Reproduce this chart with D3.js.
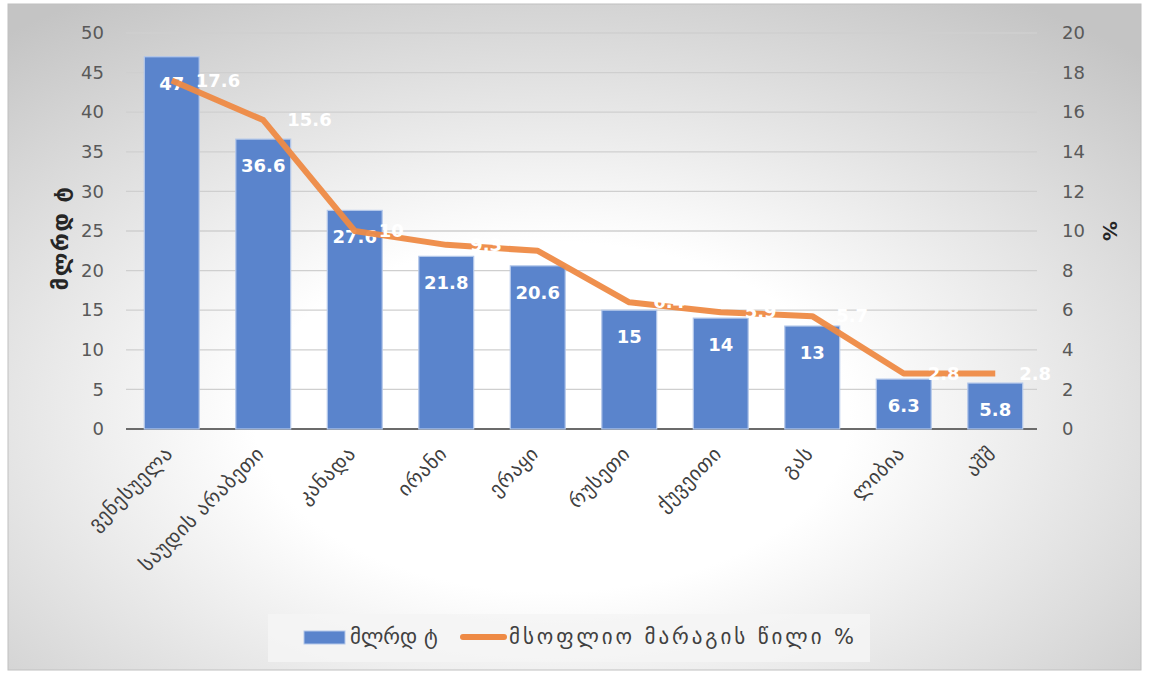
<!DOCTYPE html>
<html><head><meta charset="utf-8">
<script src="https://cdn.jsdelivr.net/npm/d3@7"></script>
<style>body{margin:0;background:#fff}svg{display:block}text{font-family:"DejaVu Sans","Noto Sans",sans-serif}</style>
</head><body>
<script>
const categories = ["ვენესუელა","საუდის არაბეთი","კანადა","ირანი","ერაყი","რუსეთი","ქუვეითი","გას","ლიბია","აშშ"];
const reserves = [47, 36.6, 27.6, 21.8, 20.6, 15, 14, 13, 6.3, 5.8];
const share = [17.6, 15.6, 10, 9.3, 9, 6.4, 5.9, 5.7, 2.8, 2.8];
const leftTicks = [0,5,10,15,20,25,30,35,40,45,50];
const rightTicks = [0,2,4,6,8,10,12,14,16,18,20];
const seriesNames = ["მლრდ ტ","მსოფლიო მარაგის წილი %"];
const yTitleLeft = "მლრდ ტ", yTitleRight = "%";

const W=1149,H=675;
const svg=d3.select("body").append("svg").attr("width",W).attr("height",H);
const defs=svg.append("defs");
const g=defs.append("radialGradient").attr("id","bg").attr("cx","48%").attr("cy","62%").attr("r","75%");
g.append("stop").attr("offset","0%").attr("stop-color","#ffffff");
g.append("stop").attr("offset","35%").attr("stop-color","#ffffff");
g.append("stop").attr("offset","100%").attr("stop-color","#c4c4c4");
svg.append("rect").attr("x",8).attr("y",4).attr("width",1133).attr("height",666).attr("fill","url(#bg)").attr("stroke","#c0c0c0").attr("stroke-width",1);

const m={l:126,r:1041,t:33,b:429};
const x=d3.scaleBand().domain(categories).range([m.l,m.r]).paddingInner(0.4).paddingOuter(0.2);
const yL=d3.scaleLinear().domain([0,50]).range([m.b,m.t]);
const yR=d3.scaleLinear().domain([0,20]).range([m.b,m.t]);

// gridlines
svg.append("g").selectAll("line").data(leftTicks.slice(1)).join("line")
 .attr("x1",m.l).attr("x2",m.r-4).attr("y1",d=>yL(d)).attr("y2",d=>yL(d))
 .attr("stroke","#cfcfcf").attr("stroke-width",1.3);
svg.append("line").attr("x1",m.l).attr("x2",m.r-4).attr("y1",m.b).attr("y2",m.b).attr("stroke","#6b6b6b").attr("stroke-width",2);

// axes
const ax=svg.append("g").attr("transform",`translate(${m.l-22},0)`)
 .call(d3.axisLeft(yL).tickValues(leftTicks).tickSize(0).tickPadding(0));
ax.select(".domain").remove();
ax.selectAll("text").attr("font-size",18).attr("fill","#595959").attr("font-family","DejaVu Sans");
const axr=svg.append("g").attr("transform",`translate(${m.r+21},0)`)
 .call(d3.axisRight(yR).tickValues(rightTicks).tickSize(0).tickPadding(0));
axr.select(".domain").remove();
axr.selectAll("text").attr("font-size",18).attr("fill","#595959").attr("font-family","DejaVu Sans");

// bars
svg.append("g").selectAll("rect").data(reserves).join("rect")
 .attr("x",(d,i)=>x(categories[i])).attr("width",x.bandwidth())
 .attr("y",d=>yL(d)).attr("height",d=>m.b-yL(d))
 .attr("fill","#5a84cc").attr("stroke","#b4c8ea").attr("stroke-width",1.2);

// bar labels
svg.append("g").selectAll("text").data(reserves).join("text")
 .attr("x",(d,i)=>x(categories[i])+x.bandwidth()/2).attr("y",d=>yL(d)+28)
 .attr("text-anchor","middle").attr("dominant-baseline","middle")
 .attr("font-size",18).attr("font-weight","bold").attr("fill","#fff").text(d=>d);

// line
const cx=i=>x(categories[i])+x.bandwidth()/2;
svg.append("path").datum(share)
 .attr("d",d3.line().x((d,i)=>cx(i)).y(d=>yR(d)))
 .attr("fill","none").attr("stroke","#ee8a45").attr("stroke-width",6).attr("stroke-linejoin","round").attr("stroke-opacity",0.95);

svg.append("g").selectAll("text").data(share).join("text")
 .attr("x",(d,i)=>cx(i)+24).attr("y",d=>yR(d)+1)
 .attr("dominant-baseline","middle")
 .attr("font-size",18).attr("font-weight","bold").attr("fill","#fff").text(d=>d);

// x labels
svg.append("g").selectAll("text").data(categories).join("text")
 .attr("transform",(d,i)=>`translate(${cx(i)+2},${m.b+26}) rotate(-45)`)
 .attr("text-anchor","end").attr("font-size",20).attr("letter-spacing",0.6).attr("fill","#404040").text(d=>d);

// axis titles
svg.append("text").attr("transform",`translate(68,238) rotate(-90)`).attr("text-anchor","middle")
 .attr("font-size",22).attr("font-weight","bold").attr("letter-spacing",1.5).attr("fill","#262626").text(yTitleLeft);
svg.append("text").attr("transform",`translate(1103,231) rotate(90)`).attr("text-anchor","middle")
 .attr("font-size",20).attr("font-weight","bold").attr("fill","#262626").text(yTitleRight);

// legend
svg.append("rect").attr("x",268).attr("y",614).attr("width",602).attr("height",48).attr("fill","#f4f4f4").attr("opacity",0.85);
svg.append("rect").attr("x",304).attr("y",631).attr("width",41).attr("height",13).attr("fill","#5a84cc").attr("stroke","#b4c8ea");
svg.append("text").attr("x",350).attr("y",638).attr("dominant-baseline","middle").attr("font-size",21).attr("fill","#404040").text(seriesNames[0]);
svg.append("line").attr("x1",463).attr("x2",504).attr("y1",637).attr("y2",637).attr("stroke","#ee8a45").attr("stroke-width",6).attr("stroke-linecap","round");
svg.append("text").attr("x",509).attr("y",638).attr("dominant-baseline","middle").attr("font-size",21)
 .attr("textLength",345).attr("lengthAdjust","spacing").attr("fill","#404040").text(seriesNames[1]);
</script>
</body></html>
